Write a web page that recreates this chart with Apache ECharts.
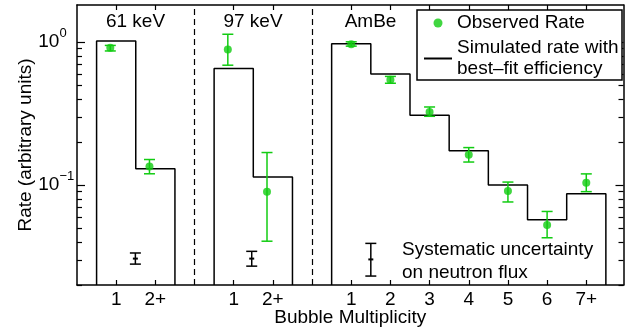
<!DOCTYPE html>
<html><head><meta charset="utf-8">
<script src="https://cdn.jsdelivr.net/npm/echarts@6/dist/echarts.min.js"></script>
<style>html,body{margin:0;padding:0;background:#fff}#c{width:628px;height:332px}</style>
</head><body><div id="c"></div>
<script>
// ---------------- data ----------------
const panelNames = ['61 keV', '97 keV', 'AmBe'];
const cats61 = ['1', '2+'];
const cats97 = ['1', '2+'];
const catsAmBe = ['1', '2', '3', '4', '5', '6', '7+'];

// Simulated rate with best-fit efficiency
const sim61 = [1.02, 0.130];
const sim97 = [0.655, 0.114];
const simAmBe = [0.975, 0.598, 0.308, 0.174, 0.100, 0.0573, 0.087];

// Observed rate with lower / upper error
const obs61 = [0.915, 0.135];
const obs61Lo = [0.868, 0.120];
const obs61Hi = [0.949, 0.151];
const obs97 = [0.89, 0.090];
const obs97Lo = [0.69, 0.0405];
const obs97Hi = [1.136, 0.169];
const obsAmBe = [0.969, 0.546, 0.325, 0.163, 0.0908, 0.0526, 0.1037];
const obsAmBeLo = [0.938, 0.516, 0.303, 0.145, 0.0762, 0.0428, 0.090];
const obsAmBeHi = [1.006, 0.576, 0.352, 0.183, 0.105, 0.0654, 0.1198];

// Systematic uncertainty on neutron flux (one per panel)
const sysMid = [0.0306, 0.0306, 0.0302];
const sysLo = [0.028, 0.0271, 0.0231];
const sysHi = [0.0335, 0.0344, 0.0391];

// y axis ticks
const yMin = 0.02, yMax = 1.82;
const yMajor = [0.1, 1];
const yMajorExp = ['\u22121', '0'];
const yMinor = [0.02, 0.03, 0.04, 0.05, 0.06, 0.07, 0.08, 0.09, 0.2, 0.3, 0.4, 0.5, 0.6, 0.7, 0.8, 0.9];

const obsName = 'Observed Rate';
const simName = 'Simulated rate with\nbest\u2013fit efficiency';
const xName = 'Bubble Multiplicity';
const yName = 'Rate (arbitrary units)';
const sysText = 'Systematic uncertainty\non neutron flux';

// ---------------- layout ----------------
const panelStart = [1, 4, 7];
const dividers = [3, 6];
const obsShift = [-0.15, -0.15, 0];
const sysOffset = [0.49, 0.46, 0.5];
const FONT = 'Liberation Sans, Arial, Helvetica, sans-serif';
const GREEN = '#12cc12';

const panels = [
  {cats: cats61, sim: sim61, obs: obs61, lo: obs61Lo, hi: obs61Hi},
  {cats: cats97, sim: sim97, obs: obs97, lo: obs97Lo, hi: obs97Hi},
  {cats: catsAmBe, sim: simAmBe, obs: obsAmBe, lo: obsAmBeLo, hi: obsAmBeHi}
];
const simData = [], obsData = [], errData = [], sysData = [], tickPos = [], tickLab = {};
panels.forEach((p, k) => {
  const x0 = panelStart[k];
  if (k > 0) simData.push([x0 - 1, '-']);
  simData.push([x0 - 0.5, yMin]);
  p.sim.forEach((v, i) => { simData.push([x0 + i - 0.5, v], [x0 + i + 0.5, v]); });
  simData.push([x0 + p.sim.length - 0.5, yMin]);
  p.cats.forEach((c, i) => { tickPos.push(x0 + i); tickLab[x0 + i] = c; });
  p.obs.forEach((v, i) => {
    const x = x0 + i + obsShift[k];
    obsData.push([x, v]);
    errData.push([x, p.lo[i], p.hi[i]]);
  });
  sysData.push([x0 + sysOffset[k], sysLo[k], sysHi[k], sysMid[k]]);
});

function errRender(capW, color, mid) {
  return function (params, api) {
    const x = api.value(0);
    const t = api.coord([x, api.value(2)]);
    const b = api.coord([x, api.value(1)]);
    const st = {stroke: color, lineWidth: 1.5};
    const ch = [
      {type: 'line', shape: {x1: t[0], y1: t[1], x2: b[0], y2: b[1]}, style: st},
      {type: 'line', shape: {x1: t[0] - capW / 2, y1: t[1], x2: t[0] + capW / 2, y2: t[1]}, style: st},
      {type: 'line', shape: {x1: b[0] - capW / 2, y1: b[1], x2: b[0] + capW / 2, y2: b[1]}, style: st}
    ];
    if (mid) {
      const m = api.coord([x, api.value(3)]);
      ch.push({type: 'line', shape: {x1: m[0] - 2.5, y1: m[1], x2: m[0] + 2.5, y2: m[1]}, style: {stroke: color, lineWidth: 2}});
    }
    return {type: 'group', children: ch};
  };
}

const axLine = {show: true, lineStyle: {color: '#000', width: 1.5}};
const tickStyle = {color: '#000', width: 1.2};
function yAx(pos, vals, len, line, labels) {
  return {
    type: 'log', logBase: 10, min: yMin, max: yMax, position: pos,
    axisLine: line ? axLine : {show: false},
    axisTick: {show: true, inside: true, length: len, customValues: vals, lineStyle: tickStyle},
    axisLabel: labels ? {
      show: true, customValues: vals, align: 'left', margin: 38.7,
      formatter: v => '{b|10}{s|' + yMajorExp[yMajor.findIndex(m => Math.abs(m - v) < 1e-6 * m)] + '}',
      rich: {
        b: {fontSize: 19, fontFamily: FONT, color: '#000', lineHeight: 30},
        s: {fontSize: 13, fontFamily: FONT, color: '#000', verticalAlign: 'top', lineHeight: 13}
      }
    } : {show: false},
    splitLine: {show: false},
    name: labels ? yName : '', nameLocation: 'middle', nameGap: 41.5, nameMoveOverlap: false,
    nameTextStyle: {fontSize: 19, fontFamily: FONT, color: '#000'}
  };
}

const chart = echarts.init(document.getElementById('c'), null, {renderer: 'canvas'});
chart.setOption({
  animation: false,
  backgroundColor: '#fff',
  grid: {left: 77, right: 4.5, top: 5, bottom: 43.5, containLabel: false},
  xAxis: [{
    type: 'value', min: 0, max: 13.95, position: 'bottom',
    axisLine: axLine,
    axisTick: {show: true, inside: true, length: 5, customValues: tickPos, lineStyle: tickStyle},
    axisLabel: {show: true, customValues: tickPos, margin: 5, fontSize: 19, fontFamily: FONT, color: '#000',
      formatter: v => tickLab[Math.round(v)]},
    splitLine: {show: false},
    name: xName, nameLocation: 'middle', nameGap: 23, nameMoveOverlap: false,
    nameTextStyle: {fontSize: 19, fontFamily: FONT, color: '#000'}
  }, {
    type: 'value', min: 0, max: 13.95, position: 'top',
    axisLine: axLine,
    axisTick: {show: true, inside: true, length: 5, customValues: tickPos, lineStyle: tickStyle},
    axisLabel: {show: false}, splitLine: {show: false}
  }],
  yAxis: [
    yAx('left', yMajor, 8, true, true),
    yAx('left', yMinor, 5, false, false),
    yAx('right', yMajor, 8, true, false),
    yAx('right', yMinor, 5, false, false)
  ],
  legend: {
    orient: 'vertical', left: 423, top: 12.5, padding: 0, itemGap: 4,
    itemWidth: 28, itemHeight: 9, z: 5,
    textStyle: {fontSize: 19, fontFamily: FONT, color: '#000', lineHeight: 21},
    data: [
      {name: obsName, icon: 'circle'},
      {name: simName, itemStyle: {opacity: 0, color: 'rgba(0,0,0,0)', borderWidth: 0}}
    ],
    selectedMode: false
  },
  graphic: [
    {type: 'rect', z: 3, shape: {x: 417, y: 10, width: 205, height: 70},
      style: {fill: '#fff', stroke: '#000', lineWidth: 1.5}},
    {type: 'text', x: 135.5, y: 22, style: {text: panelNames[0], align: 'center', verticalAlign: 'middle', fontSize: 19, fontFamily: FONT, fill: '#000'}},
    {type: 'text', x: 253, y: 22, style: {text: panelNames[1], align: 'center', verticalAlign: 'middle', fontSize: 19, fontFamily: FONT, fill: '#000'}},
    {type: 'text', x: 370.5, y: 22, style: {text: panelNames[2], align: 'center', verticalAlign: 'middle', fontSize: 19, fontFamily: FONT, fill: '#000'}},
    {type: 'text', x: 402, y: 261.5, style: {text: sysText, align: 'left', verticalAlign: 'middle', fontSize: 19, lineHeight: 23, fontFamily: FONT, fill: '#000'}}
  ],
  series: [
    {
      name: simName, type: 'line', data: simData, xAxisIndex: 0, yAxisIndex: 0,
      symbol: 'none', showSymbol: false, connectNulls: false, color: '#000',
      lineStyle: {color: '#000', width: 1.5}, z: 2,
      markLine: {
        silent: true, symbol: ['none', 'none'], label: {show: false},
        lineStyle: {color: '#000', width: 1.2, type: [6, 4]},
        data: dividers.map(d => ({xAxis: d}))
      }
    },
    {
      type: 'custom', data: errData, xAxisIndex: 0, yAxisIndex: 0,
      renderItem: errRender(11, GREEN, false), encode: {x: 0, y: [1, 2]}, z: 3
    },
    {
      name: obsName, type: 'scatter', data: obsData, xAxisIndex: 0, yAxisIndex: 0,
      symbol: 'circle', symbolSize: 8, itemStyle: {color: GREEN}, color: GREEN, z: 4
    },
    {
      type: 'custom', data: sysData, xAxisIndex: 0, yAxisIndex: 0,
      renderItem: errRender(11, '#000', true), encode: {x: 0, y: [1, 2]}, z: 3
    }
  ]
});
</script>
</body></html>
